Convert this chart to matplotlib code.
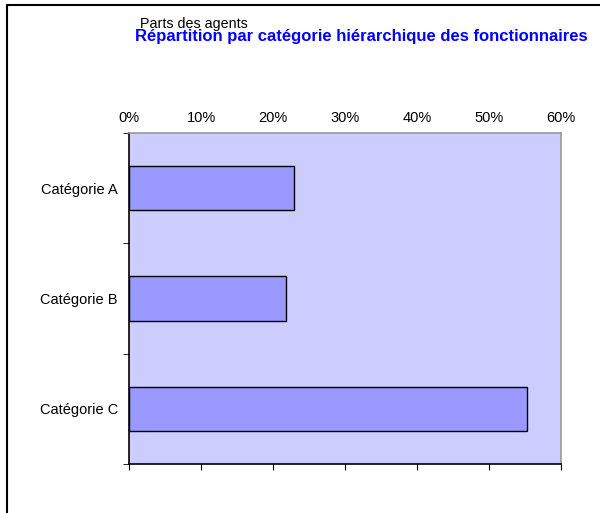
import matplotlib.pyplot as plt
from matplotlib.patches import Rectangle
from matplotlib.ticker import FuncFormatter, FixedLocator

categories = ["Catégorie A", "Catégorie B", "Catégorie C"]
shares = [22.9, 21.8, 55.3]
x_ticks = [0, 10, 20, 30, 40, 50, 60]

plt.rcParams['font.family'] = ['Liberation Sans', 'DejaVu Sans']

fig = plt.figure(figsize=(6, 5.13), dpi=100)

# outer frame of the chart area (runs off the right and bottom edges)
fig.patches.append(Rectangle((7 / 600, -0.1), 1.1, 1 - 5 / 513 + 0.1,
                             transform=fig.transFigure, fill=False,
                             edgecolor='black', linewidth=1.5))

ax = fig.add_axes([129 / 600, 1 - 464 / 513, 432 / 600, 331 / 513])
ax.set_facecolor('#CCCCFF')

y = range(len(categories))
ax.barh(y, shares, height=0.4, color='#9999FF', edgecolor='black', linewidth=1)

ax.set_xlim(0, 60)
ax.set_ylim(2.5, -0.5)

ax.xaxis.set_major_locator(FixedLocator(x_ticks))
ax.xaxis.set_major_formatter(FuncFormatter(lambda v, p: f"{v:.0f}%"))
ax.tick_params(axis='x', labeltop=True, labelbottom=False, top=False,
               bottom=True, direction='out', length=4, labelsize=10.5, pad=2)

ax.set_yticks(list(y))
ax.set_yticklabels(categories)
ax.set_yticks([-0.5, 0.5, 1.5, 2.5], minor=True)
ax.tick_params(axis='y', which='major', length=0, labelsize=10.5, pad=8)
ax.tick_params(axis='y', which='minor', length=4, direction='out')

for side in ('left', 'bottom'):
    ax.spines[side].set_color('black')
    ax.spines[side].set_linewidth(1.2)
for side in ('top', 'right'):
    ax.spines[side].set_color('#999999')
    ax.spines[side].set_linewidth(1.2)

fig.text(0.6025, 1 - 37 / 513, "Répartition par catégorie hiérarchique des fonctionnaires",
         ha='center', va='center', color='#0000FF', fontsize=12, fontweight='bold')
fig.text(140 / 600, 1 - 24 / 513, "Parts des agents", ha='left', va='center',
         color='black', fontsize=10.3)

fig.savefig("out.png", dpi=100)
